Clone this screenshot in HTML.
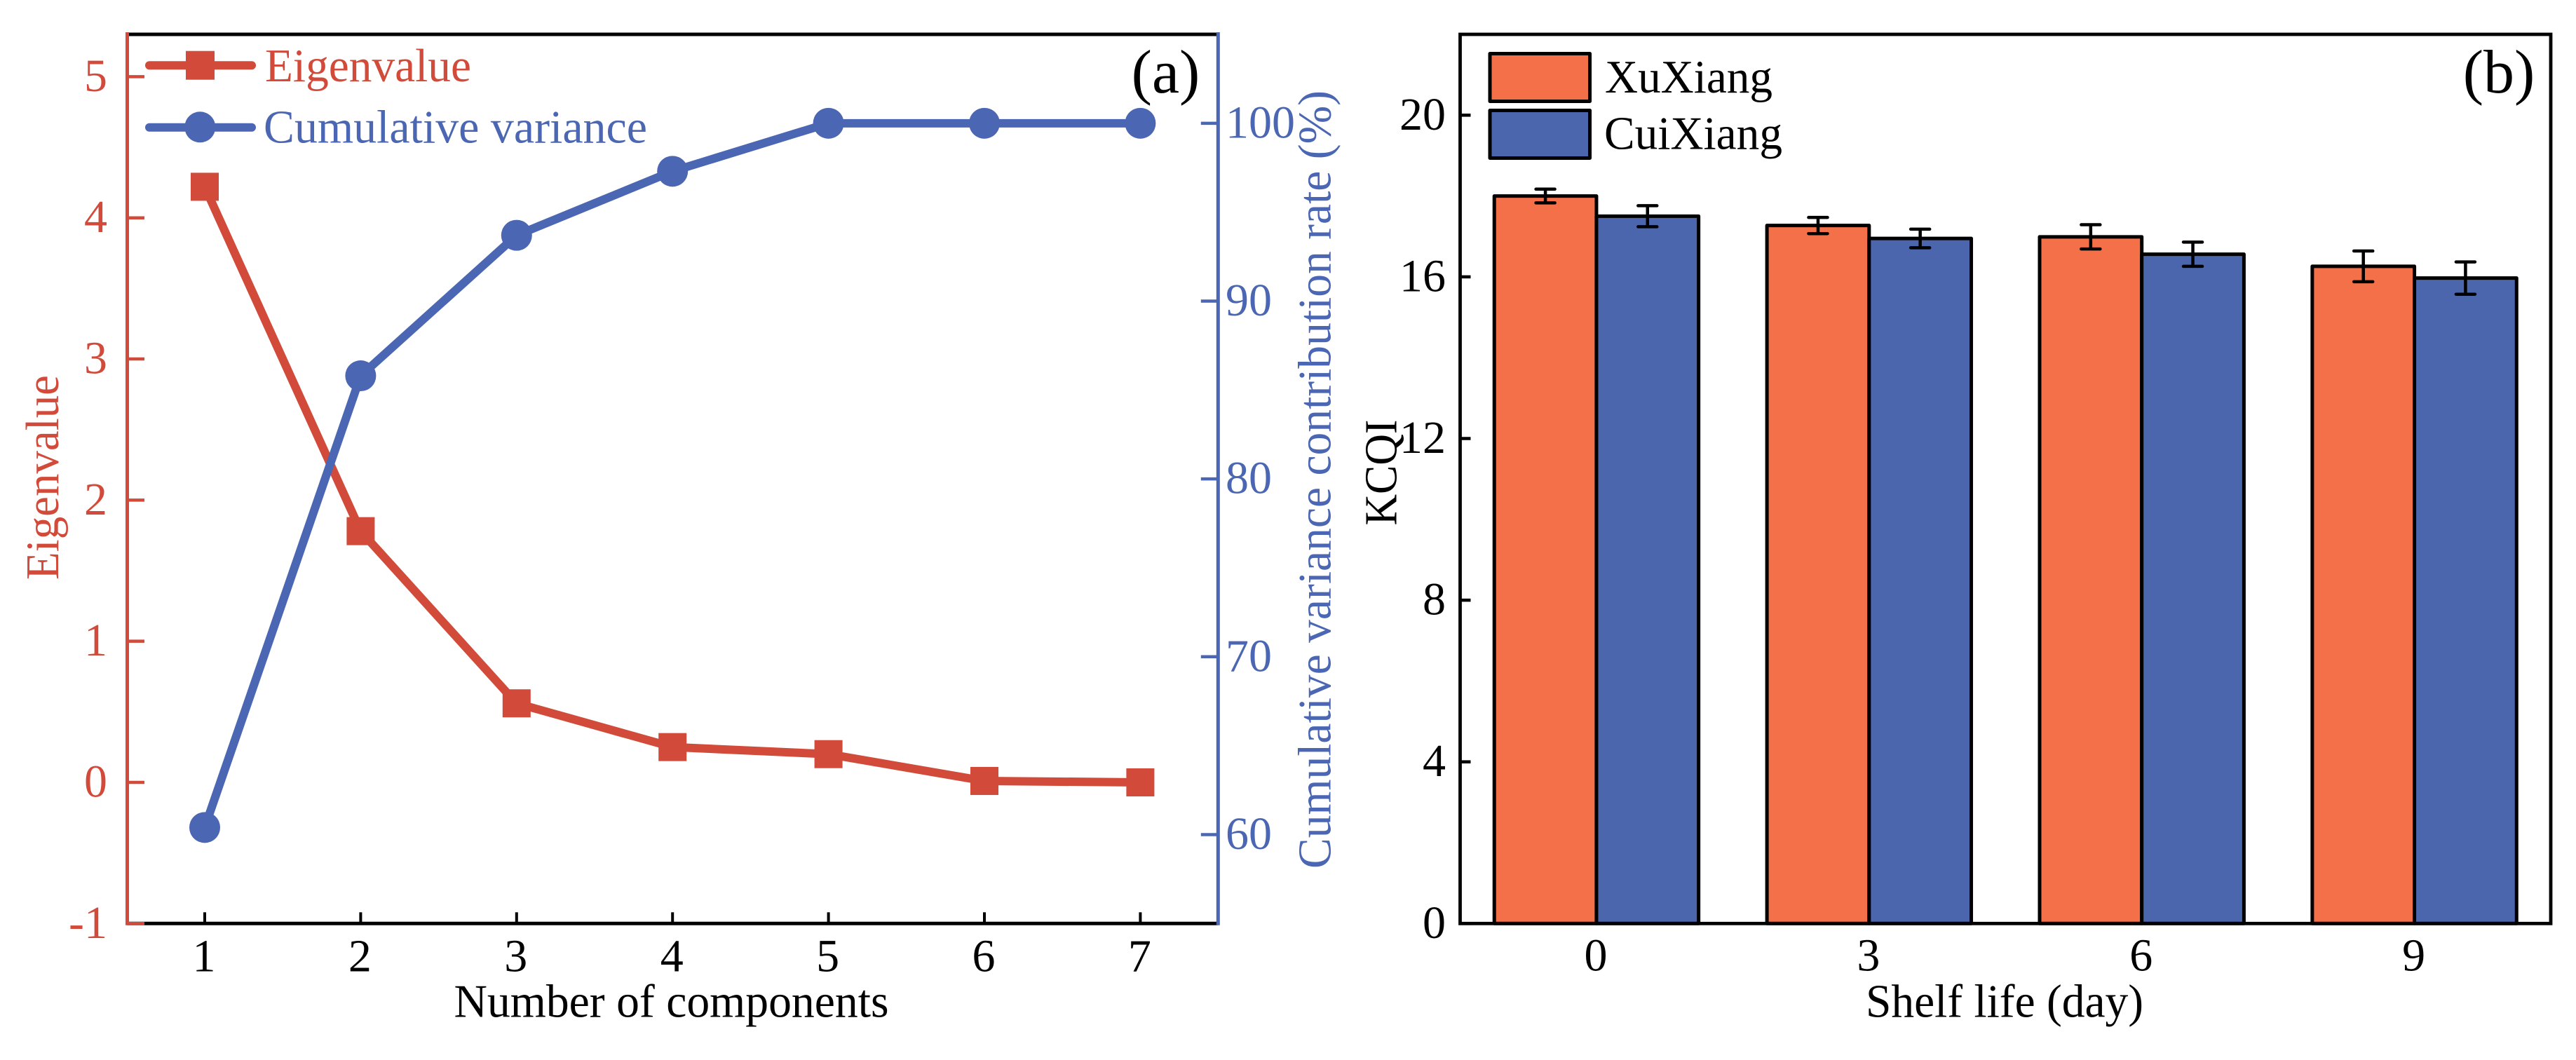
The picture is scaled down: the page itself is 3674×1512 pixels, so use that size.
<!DOCTYPE html>
<html lang="en">
<head>
<meta charset="utf-8">
<title>Eigenvalue and KCQI charts</title>
<style>
html,body{margin:0;padding:0;background:#fff;width:3674px;height:1512px;overflow:hidden}
svg{display:block}
text{font-family:"Liberation Serif",serif}
</style>
</head>
<body>
<svg id="figure" xmlns="http://www.w3.org/2000/svg" width="3674" height="1512" viewBox="0 0 3674 1512">
  <g id="panel-a"></g>
  <g id="panel-b"></g>
</svg>
<script>
/* Panel (a) data */
const components = [1, 2, 3, 4, 5, 6, 7];
const eigenvalues = [4.22, 1.78, 0.56, 0.25, 0.2, 0.01, 0.0];
const cumulativeVariance = [60.4, 85.8, 93.7, 97.3, 100, 100, 100];
const eigenTicks = [-1, 0, 1, 2, 3, 4, 5];
const varianceTicks = [60, 70, 80, 90, 100];

/* Panel (b) data */
const shelfDays = [0, 3, 6, 9];
const xuXiang = [18.0, 17.27, 16.99, 16.26];
const cuiXiang = [17.5, 16.95, 16.56, 15.97];
const xuXiangErr = [0.17, 0.2, 0.3, 0.38];
const cuiXiangErr = [0.26, 0.23, 0.3, 0.4];
const kcqiTicks = [0, 4, 8, 12, 16, 20];

const RED = '#D24B3A', BLUE = '#4B66B2', ORANGE = '#F47048', BARBLUE = '#4C66AE', BLACK = '#000';
const NS = 'http://www.w3.org/2000/svg';
const DIGIT = 66, TITLE = 67, TAG = 88;

function make(parent, tag, attrs, content) {
  const el = document.createElementNS(NS, tag);
  for (const k in attrs) el.setAttribute(k, attrs[k]);
  if (content !== undefined) el.textContent = content;
  parent.appendChild(el);
  return el;
}
function line(parent, x1, y1, x2, y2, color, w, cap) {
  return make(parent, 'line', {x1, y1, x2, y2, stroke: color, 'stroke-width': w, 'stroke-linecap': cap || 'butt'});
}
function label(parent, x, y, str, color, anchor, size, len) {
  const attrs = {x, y, fill: color, 'text-anchor': anchor || 'middle', 'font-size': size || DIGIT};
  if (len) { attrs.textLength = len; attrs.lengthAdjust = 'spacingAndGlyphs'; }
  return make(parent, 'text', attrs, str);
}
function vlabel(parent, x, cy, str, color, size, len) {
  const attrs = {x: 0, y: 0, transform: 'translate(' + x + ' ' + cy + ') rotate(-90)', fill: color, 'text-anchor': 'middle', 'font-size': size || TITLE};
  if (len) { attrs.textLength = len; attrs.lengthAdjust = 'spacingAndGlyphs'; }
  return make(parent, 'text', attrs, str);
}

/* ---------- Panel (a) ---------- */
const panelA = document.getElementById('panel-a');
const A = {left: 181.5, right: 1737.3, top: 49, bottom: 1317.3};
const ax = v => 292 + (v - 1) * 222.4;
const ayL = v => A.bottom - (v + 1) * (A.bottom - A.top) / 6.3;
const ayR = v => A.bottom - (v - 55) * (A.bottom - A.top) / 50;

const topA = line(panelA, A.left, A.top, A.right, A.top, BLACK, 5);


const bottomA = line(panelA, A.left, A.bottom, A.right, A.bottom, BLACK, 5);


const leftA = line(panelA, A.left, A.top - 3, A.left, A.bottom + 2.5, RED, 5);


const rightA = line(panelA, A.right, A.top - 3, A.right, A.bottom + 2.5, BLUE, 5);



components.forEach(c => {
  const t = line(panelA, ax(c), A.bottom, ax(c), A.bottom - 16, BLACK, 4);
  
  
  const l = label(panelA, ax(c) - 1, 1385.5, String(c), BLACK);
  
  
});
eigenTicks.forEach(v => {
  const t = line(panelA, A.left, ayL(v), A.left + 24.5, ayL(v), RED, 4.5);
  
  
  const l = label(panelA, 153, ayL(v) + 20.5, String(v), RED, 'end');
  
  
});
varianceTicks.forEach(v => {
  const t = line(panelA, A.right, ayR(v), A.right - 24.5, ayR(v), BLUE, 4.5);
  
  
  const l = label(panelA, 1748, ayR(v) + 20.5, String(v), BLUE, 'start');
  
  
});

const xTitleA = label(panelA, 957.5, 1450.5, 'Number of components', BLACK, 'middle', TITLE, 620);


const yTitleA = vlabel(panelA, 83, 681, 'Eigenvalue', RED, TITLE, 292);


const y2TitleA = vlabel(panelA, 1897.5, 684, 'Cumulative variance contribution rate (%)', BLUE, TITLE, 1110);


const tagA = label(panelA, 1662.5, 132, '(a)', BLACK, 'middle', TAG);



const redLine = make(panelA, 'polyline', {
  points: components.map((c, i) => ax(c) + ',' + ayL(eigenvalues[i])).join(' '),
  fill: 'none', stroke: RED, 'stroke-width': 12, 'stroke-linejoin': 'round'
});


components.forEach((c, i) => {
  const m = make(panelA, 'rect', {x: ax(c) - 20, y: ayL(eigenvalues[i]) - 20, width: 40, height: 40, fill: RED});
  
  
});
const blueLine = make(panelA, 'polyline', {
  points: components.map((c, i) => ax(c) + ',' + ayR(cumulativeVariance[i])).join(' '),
  fill: 'none', stroke: BLUE, 'stroke-width': 12, 'stroke-linejoin': 'round'
});


components.forEach((c, i) => {
  const m = make(panelA, 'circle', {cx: ax(c), cy: ayR(cumulativeVariance[i]), r: 22, fill: BLUE});
  
  
});

const legendA1 = line(panelA, 213, 93.3, 359, 93.3, RED, 12, 'round');


const legendA1m = make(panelA, 'rect', {x: 265, y: 72.7, width: 41, height: 41, fill: RED});


const legendA1t = label(panelA, 378, 116, 'Eigenvalue', RED, 'start', TITLE, 294);


const legendA2 = line(panelA, 213, 181.7, 359, 181.7, BLUE, 12, 'round');


const legendA2m = make(panelA, 'circle', {cx: 285.3, cy: 181.3, r: 22, fill: BLUE});


const legendA2t = label(panelA, 376, 203.5, 'Cumulative variance', BLUE, 'start', TITLE, 547);



/* ---------- Panel (b) ---------- */
const panelB = document.getElementById('panel-b');
const B = {left: 2082.5, right: 3638, top: 49, bottom: 1317.3};
const bx = i => B.left + (i + 0.5) * (B.right - B.left) / shelfDays.length;
const by = v => B.bottom - v * (B.bottom - B.top) / 22;
const BAR = 145.7;

const frameB = make(panelB, 'rect', {x: B.left, y: B.top, width: B.right - B.left, height: B.bottom - B.top, fill: 'none', stroke: BLACK, 'stroke-width': 4.8});



kcqiTicks.forEach(v => {
  const t = line(panelB, B.left, by(v), B.left + 15, by(v), BLACK, 4.5);
  
  
  const l = label(panelB, 2062, by(v) + 20.5, String(v), BLACK, 'end');
  
  
});

function drawBar(x, value, color) {
  return make(panelB, 'rect', {x, y: by(value), width: BAR, height: by(0) - by(value), fill: color, stroke: BLACK, 'stroke-width': 5, 'stroke-linejoin': 'round'});
}
function drawError(x, value, err) {
  const g = make(panelB, 'g', {});
  line(g, x, by(value + err), x, by(value - err), BLACK, 4.5);
  line(g, x - 13.5, by(value + err), x + 13.5, by(value + err), BLACK, 4.5, 'round');
  line(g, x - 13.5, by(value - err), x + 13.5, by(value - err), BLACK, 4.5, 'round');
  return g;
}
shelfDays.forEach((d, i) => {
  const c = bx(i);
  const a = drawBar(c - BAR, xuXiang[i], ORANGE);
  
  
  const b = drawBar(c, cuiXiang[i], BARBLUE);
  
  
});
shelfDays.forEach((d, i) => {
  const c = bx(i);
  const ea = drawError(c - BAR / 2, xuXiang[i], xuXiangErr[i]);
  
  
  const eb = drawError(c + BAR / 2, cuiXiang[i], cuiXiangErr[i]);
  
  
  const l = label(panelB, c - 1, 1384.5, String(d), BLACK);
  
  
});

const xTitleB = label(panelB, 2859, 1450.5, 'Shelf life (day)', BLACK, 'middle', TITLE, 396);


const yTitleB = vlabel(panelB, 1991.7, 674, 'KCQI', BLACK, 66, 151);


const tagB = label(panelB, 3564, 132, '(b)', BLACK, 'middle', TAG);



const patch1 = make(panelB, 'rect', {x: 2125, y: 76.5, width: 142.5, height: 68, fill: ORANGE, stroke: BLACK, 'stroke-width': 5, 'stroke-linejoin': 'round'});


const patch1t = label(panelB, 2289, 132, 'XuXiang', BLACK, 'start', TITLE, 239);


const patch2 = make(panelB, 'rect', {x: 2125, y: 157.5, width: 142.5, height: 68, fill: BARBLUE, stroke: BLACK, 'stroke-width': 5, 'stroke-linejoin': 'round'});


const patch2t = label(panelB, 2288, 212.5, 'CuiXiang', BLACK, 'start', TITLE, 254);


</script>
</body>
</html>
